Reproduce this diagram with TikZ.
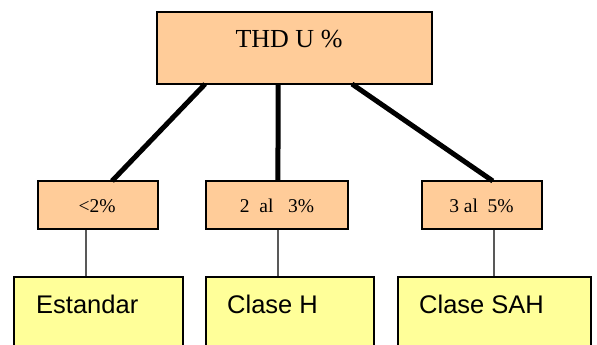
\documentclass[tikz,border=0pt]{standalone}
\usepackage{fontspec}
\setmainfont{Liberation Serif}
\newfontfamily\arialf{Liberation Sans}
\usetikzlibrary{calc}
\definecolor{peach}{HTML}{FFCC99}
\definecolor{lyellow}{HTML}{FFFF99}
\begin{document}
\begin{tikzpicture}[x=1pt,y=-1pt,
  box/.style={draw=black, line width=1.3pt, inner sep=0pt, outer sep=0pt},
  topbox/.style={box, fill=peach, minimum width=275pt, minimum height=72pt},
  midbox/.style={box, fill=peach, minimum height=48pt},
  botbox/.style={box, fill=lyellow, minimum height=83pt},
  toptext/.style={anchor=base, font=\fontsize{26}{30}\selectfont},
  midtext/.style={anchor=base, font=\fontsize{19.5}{23}\selectfont},
  bottext/.style={anchor=base west, inner sep=0pt, font=\arialf\fontsize{25.5}{30}\selectfont},
  heavy/.style={line width=5pt},
  thin/.style={line width=1.3pt}]
\useasboundingbox (0,0) rectangle (597,345);
\clip (0,0) rectangle (597,345);
% top
\node[topbox] (top) at (294.5,48) {};
\node[toptext] (toptxt) at (289,48) {THD U \%};
% middle
\node[midbox, minimum width=120pt] (s1) at (98,205) {};
\node[midbox, minimum width=142pt] (s2) at (277,205) {};
\node[midbox, minimum width=120pt] (s3) at (482,205) {};
\node[midtext] (s1t) at (97,212) {<2\%};
\node[midtext] (s2t) at (277,212) {2\ \ al\ \ \ 3\%};
\node[midtext] (s3t) at (481.5,212) {3\ al\ \ 5\%};
% bottom
\node[botbox, minimum width=169pt] (b1) at (98.5,318.5) {};
\node[botbox, minimum width=168pt] (b2) at (290,318.5) {};
\node[botbox, minimum width=193pt] (b3) at (494.5,318.5) {};
\node[bottext] (b1t) at (36,313) {Estandar};
\node[bottext] (b2t) at (227,313) {Clase H};
\node[bottext] (b3t) at (419,313) {Clase SAH};
% heavy connectors
\draw[heavy] ($(top.south west)!0.175!(top.south east)$) -- ($(s1.north west)!0.617!(s1.north east)$);
\draw[heavy] ($(top.south west)!0.44!(top.south east)$) -- ($(s2.north west)!0.507!(s2.north east)$);
\draw[heavy] ($(top.south west)!0.709!(top.south east)$) -- ($(s3.north west)!0.59!(s3.north east)$);
% thin connectors
\draw[thin] ($(s1.south west)!0.4!(s1.south east)$) -- ($(b1.north west)!0.426!(b1.north east)$);
\draw[thin] ($(s2.south west)!0.507!(s2.south east)$) -- ($(b2.north west)!0.4286!(b2.north east)$);
\draw[thin] ($(s3.south west)!0.6!(s3.south east)$) -- ($(b3.north west)!0.497!(b3.north east)$);
\end{tikzpicture}
\end{document}
